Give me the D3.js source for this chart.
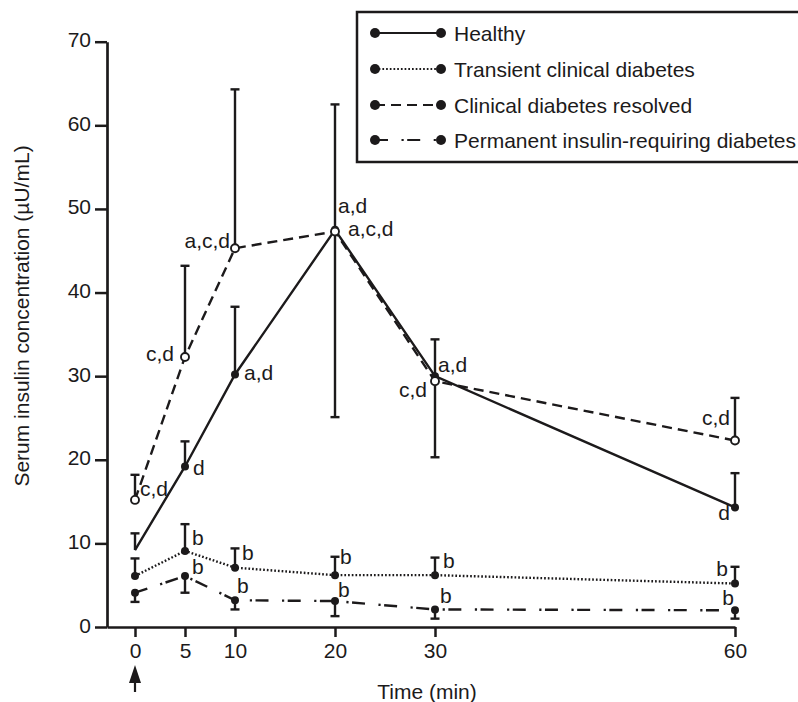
<!DOCTYPE html>
<html><head><meta charset="utf-8">
<script src="https://cdn.jsdelivr.net/npm/d3@7"></script>
<style>
body{margin:0;background:#fff;}
svg{display:block;font-family:"Liberation Sans",Arial,Helvetica,sans-serif;}
</style></head>
<body>
<svg id="chart" width="798" height="702"></svg>
<script>
// ---- data ----
const times = [0, 5, 10, 20, 30, 60];
const xTickValues = [0, 5, 10, 20, 30, 60];
const yTickValues = [0, 10, 20, 30, 40, 50, 60, 70];

const seriesNames = ["Healthy", "Transient clinical diabetes", "Clinical diabetes resolved", "Permanent insulin-requiring diabetes"];

const healthy = [9.2, 19.2, 30.2, 47.5, 30.0, 14.3];
const healthyHi = [11.2, 22.2, 38.3, 62.5, 34.4, 18.4];
const healthyLo = [null, null, null, null, null, null];
const healthyLabels = ["", "d", "a,d", "a,d", "a,d", "d"];

const transient = [6.1, 9.1, 7.1, 6.2, 6.2, 5.2];
const transientHi = [8.2, 12.3, 9.4, 8.4, 8.3, 7.2];
const transientLo = [null, null, null, null, null, null];
const transientLabels = ["", "b", "b", "b", "b", "b"];

const resolved = [15.2, 32.3, 45.3, 47.3, 29.4, 22.3];
const resolvedHi = [18.2, 43.2, 64.3, null, null, 27.4];
const resolvedLo = [null, null, null, 25.1, 20.3, null];
const resolvedLabels = ["c,d", "c,d", "a,c,d", "a,c,d", "c,d", "c,d"];

const permanent = [4.1, 6.1, 3.2, 3.1, 2.1, 2.0];
const permanentHi = [null, null, null, null, null, null];
const permanentLo = [3.0, 4.1, 2.1, 1.3, 1.0, 1.0];
const permanentLabels = ["", "b", "b", "b", "b", "b"];

// ---- label placement (style, not data): [dx, dy(baseline), anchor] ----
const healthyLabelPos = [null, [8, 9, "start"], [9, 6, "start"], [3, -17, "start"], [3, -4, "start"], [-5, 13, "end"]];
const transientLabelPos = [null, [7, -6, "start"], [7, -8, "start"], [5, -11, "start"], [8, -7, "start"], [-7, -8, "end"]];
const resolvedLabelPos = [[5, -4, "start"], [-11, 4, "end"], [-5, 0, "end"], [13, 4, "start"], [-8, 16, "end"], [-5, -16, "end"]];
const permanentLabelPos = [null, [7, -2, "start"], [2, -7, "start"], [3, -4, "start"], [5, -6, "start"], [-1, -5, "end"]];

const styles = [
  {dash: null, open: false, hideFirst: true, width: 2.4},
  {dash: "1.7,2.0", open: false, hideFirst: false, width: 2.4},
  {dash: "10,6", open: true, hideFirst: false, width: 2.4},
  {dash: "13,13.5,2.2,3.5", open: false, hideFirst: false, width: 2.4}
];

const series = [
  {name: seriesNames[0], values: healthy, hi: healthyHi, lo: healthyLo, labels: healthyLabels, pos: healthyLabelPos, style: styles[0]},
  {name: seriesNames[1], values: transient, hi: transientHi, lo: transientLo, labels: transientLabels, pos: transientLabelPos, style: styles[1]},
  {name: seriesNames[2], values: resolved, hi: resolvedHi, lo: resolvedLo, labels: resolvedLabels, pos: resolvedLabelPos, style: styles[2]},
  {name: seriesNames[3], values: permanent, hi: permanentHi, lo: permanentLo, labels: permanentLabels, pos: permanentLabelPos, style: styles[3]}
];

// ---- drawing ----
const svg = d3.select("#chart");
const FONT = 21;
const ink = "#1c1a1b";

const x = d3.scaleLinear().domain([-2.8, 60]).range([107, 735]);
const y = d3.scaleLinear().domain([0, 70]).range([627, 41.7]);

// axes
const yAxis = svg.append("g").attr("transform", "translate(107,0)")
  .call(d3.axisLeft(y).tickValues(yTickValues).tickSize(12).tickSizeOuter(0).tickPadding(4));
const xAxis = svg.append("g").attr("transform", "translate(0,627)")
  .call(d3.axisBottom(x).tickValues(xTickValues).tickSize(10).tickSizeOuter(0).tickPadding(6));
[yAxis, xAxis].forEach(a => {
  a.selectAll("path.domain").attr("stroke", ink).attr("stroke-width", 2.7);
  a.selectAll(".tick line").attr("stroke", ink).attr("stroke-width", 2.5);
  a.selectAll(".tick text").attr("fill", ink).style("font-size", FONT + "px").style("font-family", "'Liberation Sans',Arial,sans-serif");
});
yAxis.selectAll(".tick text").attr("dy", "0.24em");

// axis titles
svg.append("text").attr("x", 427).attr("y", 699)
  .attr("text-anchor", "middle").attr("fill", ink).style("font-size", FONT + "px")
  .text("Time (min)");
svg.append("text").attr("transform", "translate(29,316) rotate(-90)")
  .attr("text-anchor", "middle").attr("fill", ink).style("font-size", FONT + "px")
  .text("Serum insulin concentration (\u00B5U/mL)");

// arrow under time 0
const ax = x(0);
svg.append("line").attr("x1", ax).attr("x2", ax).attr("y1", 678).attr("y2", 692)
  .attr("stroke", ink).attr("stroke-width", 2.2);
svg.append("path").attr("d", `M${ax},665 L${ax - 6},683 L${ax + 6},683 Z`).attr("fill", ink);

// lines
const line = d3.line().x((d, i) => x(times[i])).y(d => y(d));
series.forEach(s => {
  svg.append("path").datum(s.values).attr("d", line)
    .attr("fill", "none").attr("stroke", ink).attr("stroke-width", s.style.width)
    .attr("stroke-dasharray", s.style.dash);
});

// error bars
const cap = 4.5;
series.forEach(s => {
  const g = svg.append("g").attr("stroke", ink).attr("stroke-width", 2.4);
  times.forEach((t, i) => {
    [s.hi[i], s.lo[i]].forEach(e => {
      if (e == null) return;
      g.append("line").attr("x1", x(t)).attr("x2", x(t)).attr("y1", y(s.values[i])).attr("y2", y(e));
      g.append("line").attr("x1", x(t) - cap).attr("x2", x(t) + cap).attr("y1", y(e)).attr("y2", y(e));
    });
  });
});

// markers
series.forEach(s => {
  const pts = s.values.map((v, i) => ({t: times[i], v: v, i: i}))
    .filter(p => !(s.style.hideFirst && p.i === 0));
  svg.append("g").selectAll("circle").data(pts).join("circle")
    .attr("cx", p => x(p.t)).attr("cy", p => y(p.v))
    .attr("r", 4)
    .attr("fill", s.style.open ? "#fff" : ink)
    .attr("stroke", ink).attr("stroke-width", s.style.open ? 1.9 : 0);
});

// annotations
series.forEach(s => {
  s.labels.forEach((lab, i) => {
    if (!lab) return;
    const p = s.pos[i];
    svg.append("text").attr("x", x(times[i]) + p[0]).attr("y", y(s.values[i]) + p[1])
      .attr("text-anchor", p[2]).attr("fill", ink).style("font-size", FONT + "px").text(lab);
  });
});

// legend
const lg = svg.append("g");
lg.append("rect").attr("x", 357).attr("y", 12).attr("width", 470).attr("height", 150)
  .attr("fill", "#fff").attr("stroke", ink).attr("stroke-width", 2.5);
const rowY = [33, 69, 105, 140];
series.forEach((s, i) => {
  const ry = rowY[i];
  lg.append("line").attr("x1", 375).attr("x2", 441).attr("y1", ry).attr("y2", ry)
    .attr("stroke", ink).attr("stroke-width", 2.2).attr("stroke-dasharray", s.style.dash);
  [375, 441].forEach(cx => lg.append("circle").attr("cx", cx).attr("cy", ry).attr("r", 5).attr("fill", ink));
  lg.append("text").attr("x", 454).attr("y", ry + 8).attr("fill", ink)
    .style("font-size", FONT + "px").text(s.name);
});
</script>
</body></html>
